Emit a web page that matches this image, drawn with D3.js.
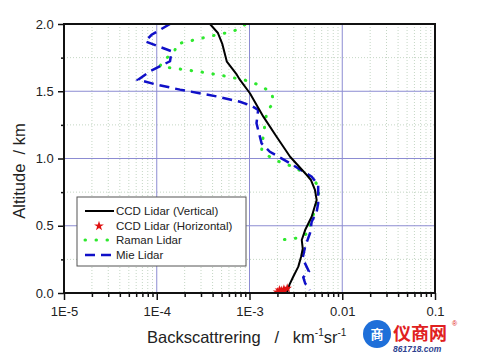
<!DOCTYPE html>
<html><head><meta charset="utf-8">
<script src="https://cdn.jsdelivr.net/npm/d3@7"></script>
<style>
body{margin:0;background:#fff;}
svg{display:block;font-family:"Liberation Sans",Arial,sans-serif;}
</style></head>
<body>
<svg id="c" width="482" height="360"></svg>
<script>
// ---- data ----
const xTickValues = [1e-5, 1e-4, 1e-3, 1e-2, 1e-1];
const xTickLabels = ["1E-5", "1E-4", "1E-3", "0.01", "0.1"];
const yTickValues = [0, 0.5, 1.0, 1.5, 2.0];
const yTickLabels = ["0.0", "0.5", "1.0", "1.5", "2.0"];
const seriesNames = ["CCD Lidar (Vertical)", "CCD Lidar (Horizontal)", "Raman Lidar", "Mie Lidar"];

// CCD Lidar (Vertical): [backscatter, altitude]
const ccdVertical = [
  [3.75e-4, 2.0], [4.57e-4, 1.933], [5.1e-4, 1.85], [5.7e-4, 1.72], [7.3e-4, 1.623],
  [7.9e-4, 1.584], [1.01e-3, 1.485], [1.41e-3, 1.311], [1.96e-3, 1.162], [2.74e-3, 1.013],
  [4.14e-3, 0.877], [4.6e-3, 0.84], [5.08e-3, 0.766], [5.3e-3, 0.691], [4.68e-3, 0.567],
  [3.98e-3, 0.468], [3.66e-3, 0.394], [3.75e-3, 0.33], [3.6e-3, 0.27], [3.36e-3, 0.196],
  [2.96e-3, 0.121], [2.69e-3, 0.06], [2.6e-3, 0.02], [2.51e-3, 0.0]
];
// CCD Lidar (Horizontal)
const ccdHorizontal = [
  [2.0e-3, 0.008], [2.2e-3, 0.018], [2.35e-3, 0.028], [2.3e-3, 0.01], [2.55e-3, 0.035], [2.1e-3, 0.022]
];
// Raman Lidar
const raman = [
  [8.9e-4, 1.995], [6.7e-4, 1.945], [3.7e-4, 1.908], [1.64e-4, 1.851], [1.55e-4, 1.792],
  [1.17e-4, 1.727], [1.08e-4, 1.685], [1.78e-4, 1.665], [3.18e-4, 1.641], [5.68e-4, 1.611],
  [1.01e-3, 1.574], [1.35e-3, 1.537], [1.74e-3, 1.487], [1.81e-3, 1.422], [1.53e-3, 1.336],
  [1.41e-3, 1.175], [1.35e-3, 1.06], [1.74e-3, 1.0], [2.22e-3, 0.969], [2.96e-3, 0.939],
  [4.9e-3, 0.853], [5.6e-3, 0.778], [5.5e-3, 0.679], [4.57e-3, 0.53], [4.3e-3, 0.448],
  [3.47e-3, 0.411], [2.62e-3, 0.401], [1.93e-3, 0.389]
];
// Mie Lidar
const mie = [
  [1.39e-4, 2.0], [8.8e-5, 1.92], [7.5e-5, 1.871], [1.45e-4, 1.797], [1.39e-4, 1.723],
  [8.45e-5, 1.648], [6.3e-5, 1.586], [1.0e-4, 1.549], [1.78e-4, 1.512], [4.4e-4, 1.462],
  [7.9e-4, 1.422], [1.06e-3, 1.39], [1.24e-3, 1.361], [1.19e-3, 1.262], [1.35e-3, 1.113],
  [1.66e-3, 1.05], [2.74e-3, 0.964], [4.68e-3, 0.865], [5.5e-3, 0.803], [5.5e-3, 0.667],
  [5.3e-3, 0.604], [4.68e-3, 0.53], [4.49e-3, 0.444], [3.98e-3, 0.344], [3.74e-3, 0.258],
  [4.37e-3, 0.16], [3.8e-3, 0.117], [3.98e-3, 0.072], [4.47e-3, 0.022]
];

// ---- drawing ----
const svg = d3.select("#c");
const L = 64, R = 435, T = 24, B = 293;
const x = d3.scaleLog().domain([1e-5, 0.1]).range([L, R]);
const y = d3.scaleLinear().domain([0, 2]).range([B, T]);

svg.append("defs").append("clipPath").attr("id", "clip")
  .append("rect").attr("x", L).attr("y", T).attr("width", R - L).attr("height", B - T);

// minor grid
const minorX = [];
for (let e = -5; e < -1; e++) for (let m = 2; m <= 9; m++) minorX.push(m * Math.pow(10, e));
const minorY = [0.25, 0.75, 1.25, 1.75];
const g = svg.append("g");
g.selectAll(".mgx").data(minorX).join("line")
  .attr("x1", d => x(d)).attr("x2", d => x(d)).attr("y1", T).attr("y2", B)
  .attr("stroke", "#c4d6c4").attr("stroke-width", 1).attr("stroke-dasharray", "1,2");
g.selectAll(".mgy").data(minorY).join("line")
  .attr("x1", L).attr("x2", R).attr("y1", d => y(d)).attr("y2", d => y(d))
  .attr("stroke", "#c4d6c4").attr("stroke-width", 1).attr("stroke-dasharray", "1,2");
// major grid
g.selectAll(".gx").data(xTickValues.slice(1, -1)).join("line")
  .attr("x1", d => x(d)).attr("x2", d => x(d)).attr("y1", T).attr("y2", B)
  .attr("stroke", "#8c8cd2").attr("stroke-width", 1);
g.selectAll(".gy").data(yTickValues.slice(1, -1)).join("line")
  .attr("x1", L).attr("x2", R).attr("y1", d => y(d)).attr("y2", d => y(d))
  .attr("stroke", "#8c8cd2").attr("stroke-width", 1);

// curves
const line = d3.line().x(d => x(d[0])).y(d => y(d[1]));
const cg = svg.append("g").attr("clip-path", "url(#clip)");
cg.append("path").datum(raman).attr("d", line).attr("fill", "none")
  .attr("stroke", "#2ee82e").attr("stroke-width", 3).attr("stroke-linecap", "round")
  .attr("stroke-dasharray", "0.5,10.5");
cg.append("path").datum(mie).attr("d", line).attr("fill", "none")
  .attr("stroke", "#1010c8").attr("stroke-width", 2.5).attr("stroke-dasharray", "10,6");
cg.append("path").datum(ccdVertical).attr("d", line).attr("fill", "none")
  .attr("stroke", "#000").attr("stroke-width", 2).attr("stroke-linejoin", "round");
cg.selectAll(".star").data(ccdHorizontal).join("path")
  .attr("d", d3.symbol().type(d3.symbolStar).size(28))
  .attr("transform", d => `translate(${x(d[0])},${y(d[1])})`)
  .attr("fill", "#e01010");

// frame
svg.append("rect").attr("x", L).attr("y", T).attr("width", R - L).attr("height", B - T)
  .attr("fill", "none").attr("stroke", "#111").attr("stroke-width", 2);

// axes
const xAxis = d3.axisBottom(x).tickValues(xTickValues)
  .tickFormat((d, i) => xTickLabels[i]).tickSize(7).tickSizeOuter(0);
const xa = svg.append("g").attr("transform", `translate(0,${B})`).call(xAxis);
const xm = svg.append("g").attr("transform", `translate(0,${B})`)
  .call(d3.axisBottom(x).tickValues(minorX).tickFormat("").tickSize(4).tickSizeOuter(0));
const yAxis = d3.axisLeft(y).tickValues(yTickValues)
  .tickFormat((d, i) => yTickLabels[i]).tickSize(6).tickSizeOuter(0);
const ya = svg.append("g").attr("transform", `translate(${L},0)`).call(yAxis);
const ym = svg.append("g").attr("transform", `translate(${L},0)`)
  .call(d3.axisLeft(y).tickValues(minorY).tickFormat("").tickSize(3).tickSizeOuter(0));
[xa, xm, ya, ym].forEach(a => {
  a.select(".domain").remove();
  a.selectAll(".tick line").attr("stroke", "#111").attr("stroke-width", 1.5);
  a.selectAll("text").attr("fill", "#222").attr("font-size", 13)
    .attr("font-family", "'Liberation Sans',Arial,sans-serif");
});
xa.selectAll("text").attr("dy", "1.0em");
ya.selectAll("text").attr("dx", "-0.1em");

// axis titles
const NB = "\u00A0";
const xt = svg.append("text").attr("x", 147).attr("y", 343).attr("text-anchor", "start")
  .attr("font-size", 16.5).attr("fill", "#222");
xt.append("tspan").text("Backscattrering" + NB.repeat(3) + "/" + NB.repeat(3) + "km");
xt.append("tspan").attr("dy", -7).attr("font-size", 10).text("-1");
xt.append("tspan").attr("dy", 7).text("sr");
xt.append("tspan").attr("dy", -7).attr("font-size", 10).text("-1");

svg.append("text").attr("transform", "translate(25,171) rotate(-90)")
  .attr("text-anchor", "middle").attr("font-size", 16.5).attr("fill", "#222")
  .text("Altitude" + NB + NB + "/ km");

// legend
const lg = svg.append("g");
lg.append("rect").attr("x", 77).attr("y", 197).attr("width", 169).attr("height", 69)
  .attr("fill", "#fff").attr("stroke", "#555").attr("stroke-width", 1);
const rows = [211, 226, 240, 255];
const styles = [
  {stroke: "#000", w: 2, dash: null},
  null,
  {stroke: "#2ee82e", w: 3, dash: "0.5,10.5", cap: "round"},
  {stroke: "#1010c8", w: 2.5, dash: "10,6"}
];
rows.forEach((ry, i) => {
  const s = styles[i];
  if (s) {
    const ln = lg.append("line").attr("x1", 85).attr("x2", 114).attr("y1", ry).attr("y2", ry)
      .attr("stroke", s.stroke).attr("stroke-width", s.w);
    if (s.dash) ln.attr("stroke-dasharray", s.dash);
    if (s.cap) ln.attr("stroke-linecap", s.cap);
  } else {
    lg.append("path").attr("d", d3.symbol().type(d3.symbolStar).size(30))
      .attr("transform", `translate(99,${ry})`).attr("fill", "#e01010");
  }
  lg.append("text").attr("x", 116).attr("y", ry + 4).attr("font-size", 11.5)
    .attr("fill", "#222").text(seriesNames[i]);
});

// watermark
const wm = svg.append("g");
wm.append("circle").attr("cx", 377).attr("cy", 334).attr("r", 14).attr("fill", "#1e6fd9");
wm.append("text").attr("x", 377).attr("y", 339).attr("text-anchor", "middle")
  .attr("font-size", 13).attr("font-weight", "bold").attr("fill", "#fff")
  .attr("font-family", "'Noto Sans CJK SC',sans-serif").text("商");
wm.append("text").attr("x", 393).attr("y", 340).attr("font-size", 18).attr("font-weight", "bold")
  .attr("fill", "#e02020").attr("font-family", "'Noto Sans CJK SC',sans-serif").text("仪商网");
wm.append("text").attr("x", 452).attr("y", 326).attr("font-size", 7).attr("fill", "#e02020").text("®");
wm.append("text").attr("x", 393).attr("y", 352).attr("font-size", 8.5).attr("font-style", "italic")
  .attr("font-weight", "bold").attr("fill", "#2d3f8f").text("861718.com");
</script>
</body></html>
